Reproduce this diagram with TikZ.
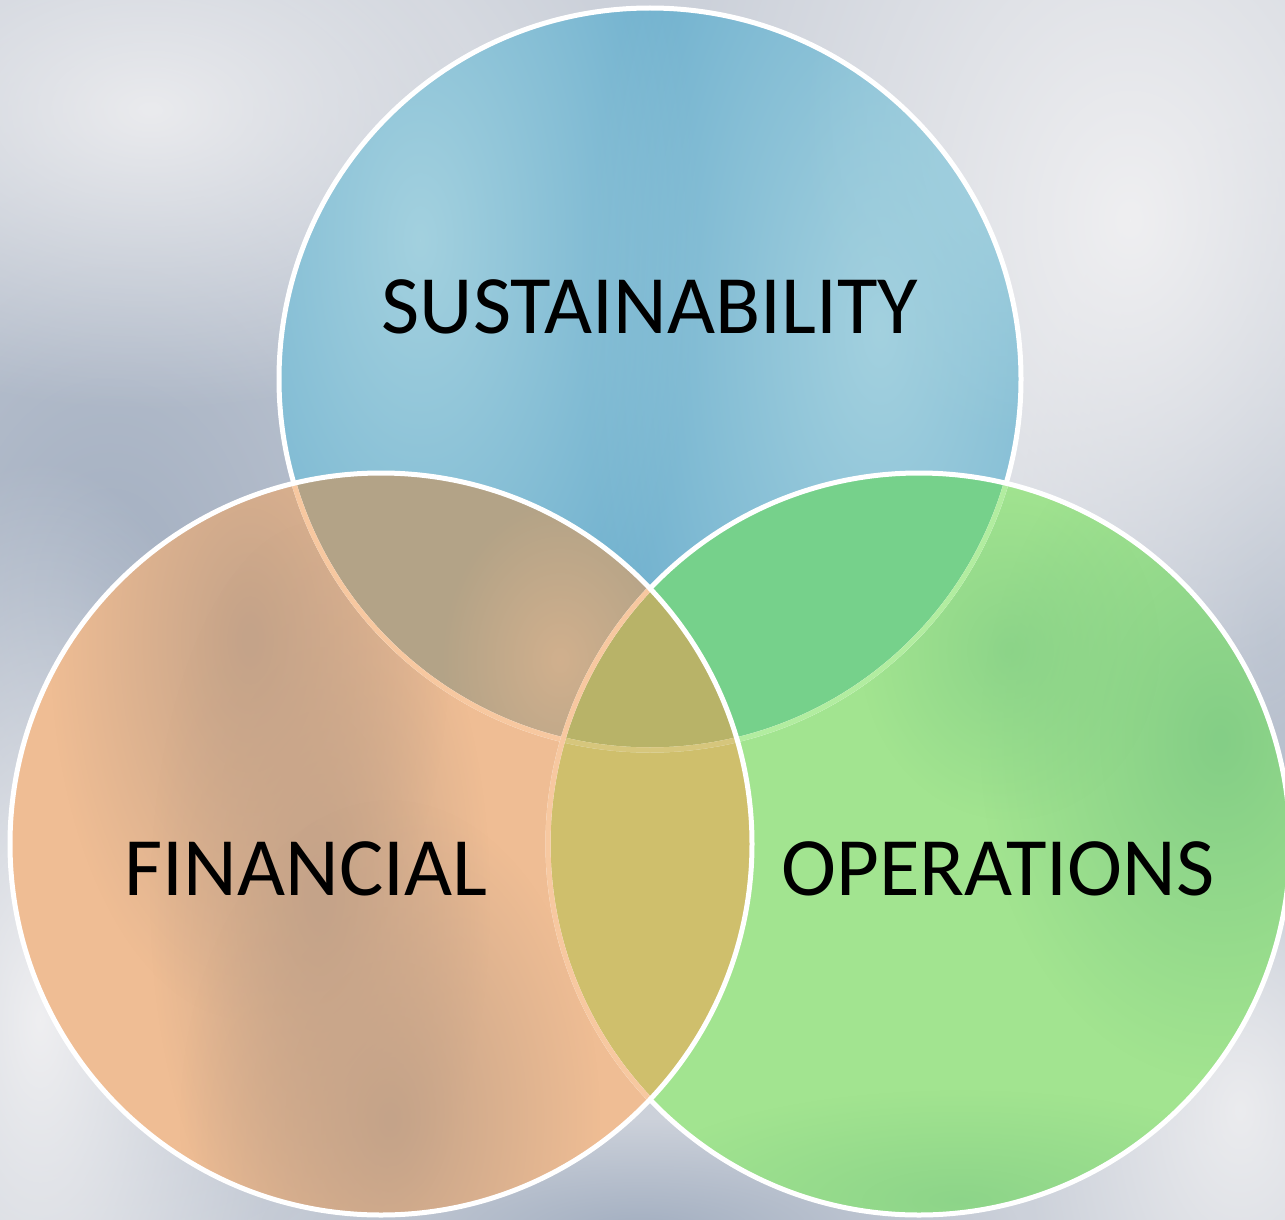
\documentclass[tikz,border=0pt]{standalone}
\usepackage{fontspec}
\setmainfont{Carlito}
\usetikzlibrary{fadings}
\definecolor{bg}{HTML}{CCD1DA}
\definecolor{bgblue}{HTML}{A3AFC1}
\definecolor{bglight}{HTML}{EFEFF1}
\definecolor{cblue}{HTML}{6FB0CE}
\definecolor{cbluelt}{HTML}{A3D1DF}
\definecolor{corange}{HTML}{EFBD94}
\definecolor{corangedk}{HTML}{C4A389}
\definecolor{cgreen}{HTML}{A2E490}
\definecolor{cgreendk}{HTML}{84CE86}
\definecolor{cTL}{HTML}{B3A387}
\definecolor{cTR}{HTML}{76D18B}
\definecolor{cLR}{HTML}{CFBF6C}
\definecolor{cTLR}{HTML}{B8B368}
\definecolor{lpeach}{HTML}{F7C8A0}
\definecolor{lgreen}{HTML}{B2EDA0}
\definecolor{lmid}{HTML}{D6C67C}
\tikzfading[name=softblob, inner color=transparent!0, outer color=transparent!100]
\newcommand{\pathT}{(650,379) circle[radius=371pt]}
\newcommand{\pathL}{(381,844) circle[radius=371pt]}
\newcommand{\pathR}{(919,844) circle[radius=371pt]}
\begin{document}
\begin{tikzpicture}[x=1pt,y=-1pt,
  venntext/.style={font=\fontsize{83}{96}\selectfont, text=black, anchor=base, inner sep=0pt},
  rim/.style={line width=5pt},
  blob/.style={path fading=softblob}]
\useasboundingbox (0,0) rectangle (1285,1220);
% sky background
\fill[bg] (0,0) rectangle (1285,1220);
\fill[bgblue, blob] (110,600) ellipse [x radius=520pt, y radius=760pt];
\fill[bgblue, blob, fill opacity=0.8] (1270,640) ellipse [x radius=260pt, y radius=520pt];
\fill[bglight, blob] (1130,220) ellipse [x radius=460pt, y radius=640pt];
\fill[bglight, blob, fill opacity=0.9] (150,110) ellipse [x radius=480pt, y radius=300pt];
\fill[bglight, blob] (40,1020) ellipse [x radius=240pt, y radius=560pt];
\fill[bglight, blob, fill opacity=0.9] (1240,1110) ellipse [x radius=220pt, y radius=360pt];
\fill[bgblue, blob] (640,1230) ellipse [x radius=380pt, y radius=110pt];
% base fills
\fill[cblue] \pathT;
\fill[cgreen] \pathR;
\fill[corange] \pathL;
% textures
\begin{scope}
  \clip \pathT;
  \fill[cbluelt, blob] (420,240) ellipse [x radius=280pt, y radius=560pt];
  \fill[cbluelt, blob] (880,330) ellipse [x radius=300pt, y radius=620pt];
  \fill[cbluelt, blob] (1000,140) ellipse [x radius=200pt, y radius=300pt];
\end{scope}
\begin{scope}
  \clip \pathL;
  \fill[corangedk, blob] (250,640) ellipse [x radius=200pt, y radius=380pt];
  \fill[corangedk, blob] (320,900) ellipse [x radius=170pt, y radius=380pt];
  \fill[corangedk, blob] (390,1120) ellipse [x radius=210pt, y radius=320pt];
\end{scope}
\begin{scope}
  \clip \pathR;
  \fill[cgreendk, blob] (1220,740) ellipse [x radius=240pt, y radius=340pt];
  \fill[cgreendk, blob, fill opacity=0.7] (1010,650) ellipse [x radius=150pt, y radius=170pt];
  \fill[cgreendk, blob, fill opacity=0.7] (960,1200) ellipse [x radius=340pt, y radius=110pt];
\end{scope}
% overlaps
\begin{scope}
  \clip \pathT;
  \fill[cTR] \pathR;
  \fill[cTL] \pathL;
  \begin{scope}
    \clip \pathL;
    \fill[corange, blob, fill opacity=0.5] (560,660) ellipse [x radius=120pt, y radius=160pt];
  \end{scope}
\end{scope}
\begin{scope}
  \clip \pathL;
  \fill[cLR] \pathR;
\end{scope}
\begin{scope}
  \clip \pathT;
  \clip \pathL;
  \fill[cTLR] \pathR;
\end{scope}
% rims
\draw[white, rim] \pathT;
\begin{scope}
  \clip \pathR;
  \draw[lgreen, rim] \pathT;
\end{scope}
\begin{scope}
  \clip \pathL;
  \draw[lpeach, rim] \pathT;
\end{scope}
\begin{scope}
  \clip \pathL;
  \clip \pathR;
  \draw[lmid, rim] \pathT;
\end{scope}
\draw[white, rim] \pathR;
\begin{scope}
  \clip \pathL;
  \draw[lpeach, rim] \pathR;
\end{scope}
\draw[white, rim] \pathL;
% labels
\node[venntext] (sus) at (650,333) {SUSTAINABILITY};
\node[venntext] (fin) at (306,895) {FINANCIAL};
\node[venntext] (ops) at (998,895) {OPERATIONS};
\end{tikzpicture}
\end{document}
